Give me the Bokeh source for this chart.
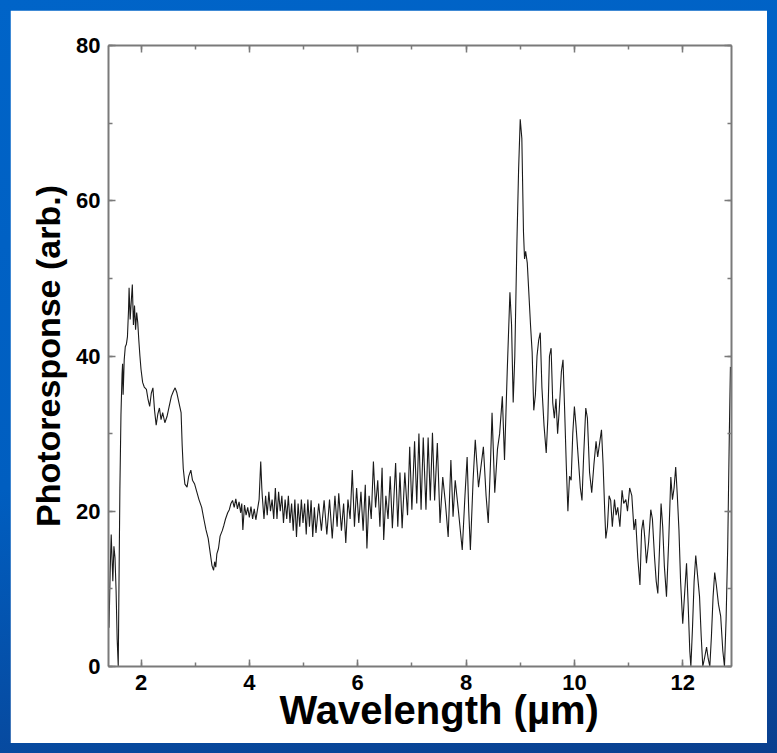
from bokeh.plotting import figure
from bokeh.models import LinearAxis, SingleIntervalTicker, Range1d, Title
from bokeh.layouts import column
from bokeh.embed import file_html
from bokeh.resources import INLINE

wavelength = [
    1.41, 1.43, 1.45, 1.47, 1.48, 1.50, 1.52, 1.54, 1.56, 1.58, 1.59, 1.61, 1.63, 1.65, 1.66, 1.67, 1.69,
    1.71, 1.73, 1.75, 1.77, 1.78, 1.80, 1.82, 1.84, 1.86, 1.88, 1.90, 1.92, 1.94, 1.96, 1.98, 2.00,
    2.03, 2.06, 2.10, 2.13, 2.16, 2.19, 2.22, 2.25, 2.28, 2.31, 2.34, 2.37, 2.40, 2.44, 2.48, 2.52,
    2.56, 2.60, 2.63, 2.66, 2.70, 2.74, 2.76, 2.78, 2.81, 2.85, 2.88, 2.92, 2.95, 2.99, 3.03, 3.07,
    3.12, 3.16, 3.20, 3.24, 3.28, 3.31, 3.34, 3.36, 3.38, 3.40, 3.43, 3.46, 3.50, 3.53, 3.56, 3.60,
    3.63, 3.66, 3.69, 3.72, 3.75, 3.78, 3.81, 3.84, 3.86, 3.88, 3.91, 3.94, 3.97, 4.00, 4.03, 4.06,
    4.09, 4.12, 4.15, 4.18, 4.21, 4.23, 4.24, 4.27, 4.30, 4.33, 4.36, 4.39, 4.42, 4.45, 4.48, 4.51,
    4.54, 4.57, 4.60, 4.63, 4.66, 4.69, 4.72, 4.75, 4.78, 4.81, 4.84, 4.87, 4.90, 4.93, 4.96, 4.99,
    5.02, 5.05, 5.08, 5.11, 5.14, 5.17, 5.20, 5.23, 5.28, 5.33, 5.38, 5.43, 5.48, 5.53, 5.58, 5.62,
    5.65, 5.70, 5.74, 5.78, 5.82, 5.86, 5.90, 5.94, 5.98, 6.02, 6.06, 6.10, 6.14, 6.17, 6.21, 6.25,
    6.29, 6.33, 6.37, 6.41, 6.45, 6.48, 6.52, 6.56, 6.60, 6.64, 6.70, 6.74, 6.78, 6.82, 6.87, 6.92,
    6.96, 7.00, 7.05, 7.09, 7.13, 7.17, 7.21, 7.26, 7.30, 7.34, 7.38, 7.42, 7.47, 7.52, 7.57, 7.62,
    7.67, 7.72, 7.76, 7.80, 7.86, 7.93, 7.98, 8.02, 8.05, 8.08, 8.13, 8.17, 8.23, 8.28, 8.32, 8.37,
    8.41, 8.45, 8.48, 8.53, 8.58, 8.62, 8.67, 8.71, 8.76, 8.81, 8.84, 8.87, 8.90, 8.94, 8.97, 9.00,
    9.03, 9.06, 9.08, 9.10, 9.13, 9.16, 9.19, 9.22, 9.25, 9.28, 9.31, 9.34, 9.37, 9.40, 9.44, 9.48,
    9.51, 9.54, 9.57, 9.60, 9.63, 9.66, 9.69, 9.72, 9.76, 9.79, 9.82, 9.85, 9.88, 9.91, 9.94, 9.97,
    10.00, 10.03, 10.07, 10.11, 10.14, 10.17, 10.21, 10.24, 10.28, 10.32, 10.36, 10.40, 10.43, 10.47,
    10.50, 10.53, 10.56, 10.58, 10.61, 10.64, 10.67, 10.70, 10.74, 10.77, 10.80, 10.84, 10.88, 10.91,
    10.95, 10.98, 11.02, 11.06, 11.10, 11.13, 11.17, 11.21, 11.24, 11.27, 11.30, 11.33, 11.37, 11.41,
    11.44, 11.48, 11.51, 11.54, 11.57, 11.60, 11.63, 11.66, 11.70, 11.74, 11.78, 11.81, 11.84, 11.87,
    11.90, 11.93, 11.96, 12.00, 12.04, 12.07, 12.10, 12.13, 12.15, 12.18, 12.21, 12.24, 12.27, 12.31,
    12.34, 12.37, 12.40, 12.44, 12.47, 12.50, 12.53, 12.56, 12.59, 12.62, 12.66, 12.70, 12.74, 12.77,
    12.80, 12.83, 12.86, 12.88,
]

photoresponse = [
    5.0, 12.0, 17.0, 13.0, 11.0, 15.5, 14.0, 9.8, 3.5, 0.0, 8.0, 22.7, 32.4, 37.6, 39.0, 35.0, 39.5,
    41.2, 41.5, 42.5, 46.0, 48.8, 44.7, 47.0, 49.2, 44.0, 46.5, 43.4, 45.6, 44.3, 42.0, 40.0, 38.3,
    36.6, 36.0, 35.7, 34.4, 33.5, 35.2, 35.9, 33.0, 31.1, 32.5, 33.3, 31.8, 32.7, 31.4, 32.2, 33.5,
    34.8, 35.5, 35.9, 35.3, 34.0, 32.7, 28.5, 25.5, 23.5, 23.1, 24.5, 25.3, 24.0, 23.5, 22.5, 21.5,
    20.5, 19.0, 17.6, 16.5, 14.5, 13.0, 12.4, 13.5, 12.8, 14.5, 15.2, 16.8, 17.5, 18.2, 19.0, 19.8,
    20.2, 21.0, 21.4, 20.5, 21.6, 20.3, 21.2, 19.8, 21.0, 17.6, 20.8, 19.5, 20.5, 19.2, 20.6, 19.0,
    20.3, 18.9, 20.2, 21.5, 26.4, 23.0, 21.8, 19.0, 22.0, 19.5, 22.5, 20.0, 21.5, 19.0, 23.0, 19.0,
    22.5, 20.0, 22.0, 18.5, 21.5, 19.0, 22.0, 18.5, 21.0, 17.5, 21.5, 16.7, 21.0, 18.0, 21.5, 18.5,
    21.0, 17.0, 21.5, 18.0, 21.4, 16.7, 20.5, 17.2, 21.0, 17.5, 21.4, 17.0, 21.5, 16.5, 22.0, 18.0,
    22.3, 17.5, 21.0, 15.9, 21.5, 19.0, 25.3, 18.0, 23.0, 18.5, 22.5, 17.5, 23.4, 15.2, 22.0, 19.0,
    26.4, 20.5, 24.0, 18.0, 25.6, 16.3, 22.0, 19.0, 24.5, 17.8, 26.2, 18.0, 25.0, 17.8, 25.0, 19.5,
    28.3, 20.2, 29.0, 21.0, 30.0, 20.2, 29.5, 20.2, 29.5, 21.4, 30.1, 21.4, 28.8, 18.5, 24.4, 21.0,
    16.7, 26.6, 19.3, 24.0, 20.0, 15.0, 22.0, 27.0, 20.0, 15.0, 24.0, 29.2, 23.1, 26.0, 28.3, 22.0,
    18.5, 26.0, 32.7, 22.4, 28.0, 30.0, 34.8, 26.6, 38.0, 48.2, 44.0, 34.0, 40.0, 55.0, 64.0, 70.5,
    68.0, 56.0, 52.5, 53.5, 52.0, 48.0, 44.0, 40.5, 33.0, 35.0, 40.0, 42.0, 43.0, 36.0, 31.0, 27.5,
    32.0, 40.0, 41.0, 34.0, 32.0, 34.5, 30.0, 33.0, 38.0, 39.5, 33.0, 26.0, 20.0, 24.5, 24.0, 30.0,
    33.5, 31.0, 27.0, 23.0, 21.4, 27.0, 33.3, 32.0, 25.0, 22.4, 26.0, 29.0, 27.0, 29.0,
    30.5, 26.0, 20.0, 16.5, 18.0, 22.0, 21.4, 18.0, 21.5, 19.5, 20.5, 18.0, 22.7, 21.0,
    21.5, 20.0, 23.0, 22.0, 17.6, 19.0, 14.0, 10.5, 17.5, 18.9, 16.5, 13.3, 16.0, 20.2,
    19.0, 14.0, 11.0, 9.4, 15.0, 21.0, 18.0, 13.0, 9.0, 16.0, 24.4, 21.5, 23.0, 25.7,
    22.0, 17.6, 11.0, 5.5, 10.0, 13.3, 8.0, 2.0, 0.0, 5.0, 11.0, 14.3, 12.0, 9.0,
    4.0, 0.0, 1.0, 2.5, 1.0, 0.0, 4.0, 9.0, 12.1, 10.5, 8.0, 6.5, 2.0, 0.0,
    6.0, 15.4, 30.0, 38.6,
]

x_ticks_interval = 2
y_ticks_interval = 20
x_title = "Wavelength (\u00b5m)"
y_title = "Photoresponse (arb.)"

FONT = "Liberation Sans"
AXIS_GRAY = "#7a7a7a"

p = figure(
    width=757, height=733,
    x_range=Range1d(1.4, 12.9), y_range=Range1d(0, 80),
    output_backend="svg", toolbar_location=None,
    min_border_left=98, min_border_right=36, min_border_top=35, min_border_bottom=77,
    x_axis_type=None, y_axis_type=None,
)
p.border_fill_color = "white"
p.background_fill_color = "white"
p.outline_line_color = None
p.xgrid.visible = False
p.ygrid.visible = False

p.line(wavelength, photoresponse, line_color="#1a1a1a", line_width=1.1)


def style_axis(ax, show_labels):
    ax.axis_line_color = AXIS_GRAY
    ax.axis_line_width = 2
    ax.major_tick_line_color = AXIS_GRAY
    ax.minor_tick_line_color = AXIS_GRAY
    ax.major_tick_line_width = 1.5
    ax.minor_tick_line_width = 1.5
    ax.major_tick_in = 7
    ax.major_tick_out = 0
    ax.minor_tick_in = 4
    ax.minor_tick_out = 0
    ax.major_label_text_font = FONT
    ax.major_label_text_font_style = "bold"
    ax.major_label_text_font_size = "22px"
    ax.major_label_text_color = "black" if show_labels else None
    ax.axis_label_text_font = FONT
    ax.axis_label_text_font_style = "bold"
    ax.axis_label_text_font_size = "34px"
    ax.axis_label_text_color = "black"


xb = LinearAxis(ticker=SingleIntervalTicker(interval=x_ticks_interval, num_minor_ticks=2))
style_axis(xb, True)
xb.major_label_standoff = 8
p.add_layout(xb, "below")

xt = LinearAxis(ticker=SingleIntervalTicker(interval=x_ticks_interval, num_minor_ticks=2))
style_axis(xt, False)
xt.major_label_text_font_size = "0px"
p.add_layout(xt, "above")

yl = LinearAxis(ticker=SingleIntervalTicker(interval=y_ticks_interval, num_minor_ticks=2),
                axis_label=y_title)
style_axis(yl, True)
yl.major_label_standoff = 8
yl.axis_label_standoff = 6
p.add_layout(yl, "left")

yr = LinearAxis(ticker=SingleIntervalTicker(interval=y_ticks_interval, num_minor_ticks=2))
style_axis(yr, False)
yr.major_label_text_font_size = "0px"
p.add_layout(yr, "right")

xtitle = Title(text=x_title, align="left", offset=171, standoff=-14,
               text_font=FONT, text_font_style="bold", text_font_size="40px",
               text_color="black")
p.add_layout(xtitle, "below")

lay = column(p, styles={
    "background": "linear-gradient(170deg, #0064c8 0%, #005ec0 55%, #0a3f8e 100%)",
    "padding": "10px",
})

open("out.html", "w").write(file_html(lay, INLINE))
